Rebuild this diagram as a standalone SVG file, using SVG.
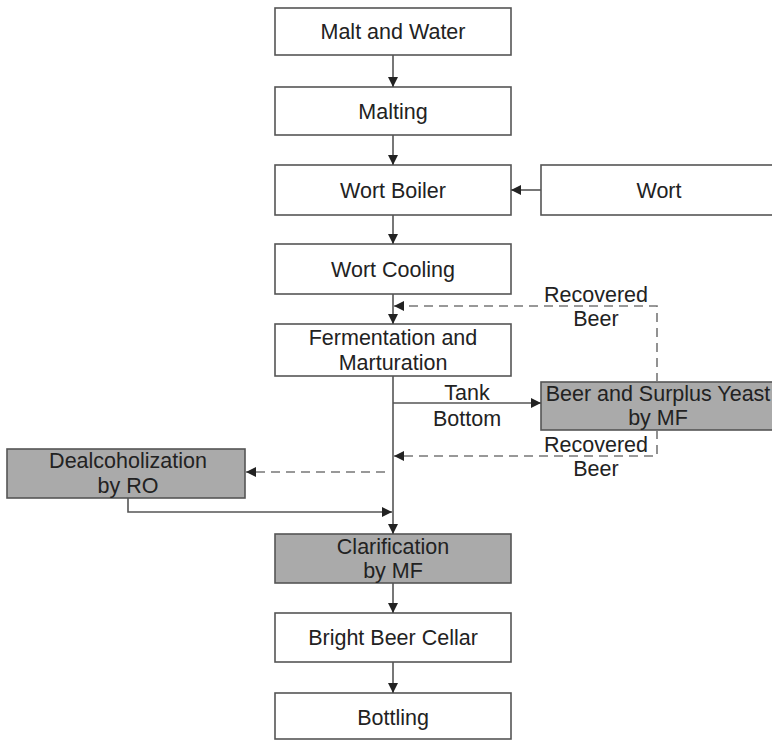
<svg xmlns="http://www.w3.org/2000/svg" width="772" height="740" viewBox="0 0 772 740">
<defs>
<marker id="ah" viewBox="0 0 10 10" refX="10" refY="5" markerWidth="10" markerHeight="10" markerUnits="userSpaceOnUse" orient="auto">
<path d="M0,0 L10,5 L0,10 z" fill="#222"/>
</marker>
</defs>
<style>
.box{fill:#fff;stroke:#555;stroke-width:1.6}
.g{fill:#aaa;stroke:#555;stroke-width:1.6}
text{font-family:"Liberation Sans",Arial,sans-serif;font-size:21.5px;fill:#222;text-anchor:middle}
.c{fill:none;stroke:#555;stroke-width:1.6}
.d{fill:none;stroke:#777;stroke-width:1.6;stroke-dasharray:9,6}
</style>
<g id="malt"><rect class="box" x="275" y="8" width="236" height="47"/><text x="393" y="39">Malt and Water</text></g>
<g id="malting"><rect class="box" x="275" y="87" width="236" height="48"/><text x="393" y="119">Malting</text></g>
<g id="boiler"><rect class="box" x="275" y="165" width="236" height="50"/><text x="393" y="198">Wort Boiler</text></g>
<g id="wort"><rect class="box" x="541" y="165" width="240" height="50"/><text x="659" y="198">Wort</text></g>
<g id="cooling"><rect class="box" x="275" y="244" width="236" height="50"/><text x="393" y="277">Wort Cooling</text></g>
<g id="ferm"><rect class="box" x="275" y="324" width="236" height="52"/><text x="393" y="345">Fermentation and</text><text x="393" y="370">Marturation</text></g>
<g id="yeast"><rect class="g" x="541" y="382" width="240" height="48"/><text x="658" y="401">Beer and Surplus Yeast</text><text x="658" y="425">by MF</text></g>
<g id="dealc"><rect class="g" x="7" y="449" width="238" height="49"/><text x="128" y="468">Dealcoholization</text><text x="128" y="493">by RO</text></g>
<g id="clar"><rect class="g" x="275" y="534" width="236" height="49"/><text x="393" y="554">Clarification</text><text x="393" y="578">by MF</text></g>
<g id="cellar"><rect class="box" x="275" y="613" width="236" height="49"/><text x="393" y="645">Bright Beer Cellar</text></g>
<g id="bottling"><rect class="box" x="275" y="693" width="236" height="46"/><text x="393" y="725">Bottling</text></g>
<g id="connectors">
<line class="c" x1="393" y1="55" x2="393" y2="87" marker-end="url(#ah)"/>
<line class="c" x1="393" y1="135" x2="393" y2="165" marker-end="url(#ah)"/>
<line class="c" x1="541" y1="190" x2="511" y2="190" marker-end="url(#ah)"/>
<line class="c" x1="393" y1="215" x2="393" y2="244" marker-end="url(#ah)"/>
<line class="c" x1="393" y1="294" x2="393" y2="324" marker-end="url(#ah)"/>
<line class="c" x1="393" y1="376" x2="393" y2="534" marker-end="url(#ah)"/>
<line class="c" x1="393" y1="583" x2="393" y2="613" marker-end="url(#ah)"/>
<line class="c" x1="393" y1="662" x2="393" y2="693" marker-end="url(#ah)"/>
<line class="c" x1="393" y1="403" x2="541" y2="403" marker-end="url(#ah)"/>
<polyline class="d" points="657,382 657,306 394,306" marker-end="url(#ah)"/>
<polyline class="d" points="657,430 657,456 394,456" marker-end="url(#ah)"/>
<line class="d" x1="385" y1="472" x2="246" y2="472" marker-end="url(#ah)"/>
<polyline class="c" points="128,498 128,512 392,512" marker-end="url(#ah)"/>
<text x="596" y="302">Recovered</text>
<text x="596" y="326">Beer</text>
<text x="467" y="400">Tank</text>
<text x="467" y="426">Bottom</text>
<text x="596" y="452">Recovered</text>
<text x="596" y="476">Beer</text>
</g>
</svg>
